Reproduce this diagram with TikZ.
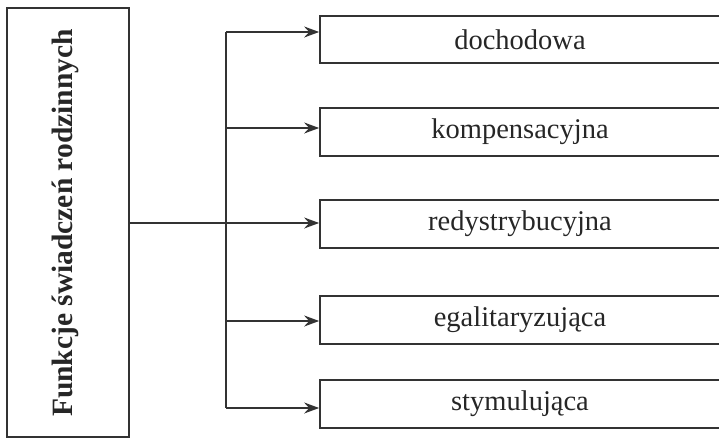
\documentclass[tikz,border=0pt]{standalone}
\usepackage{fontspec}
\setmainfont{Liberation Serif}
\usetikzlibrary{arrows.meta}
\begin{document}
\begin{tikzpicture}[x=1pt,y=-1pt,
  line/.style={draw=black!80, line width=1.7pt},
  fbox/.style={line, rectangle, minimum width=400pt, minimum height=48pt,
    inner sep=0pt, text=black!85, font=\fontsize{28.5}{32}\selectfont},
  arr/.style={line, -{Stealth[length=15pt,width=11pt,inset=5pt]}}]
\useasboundingbox (0,0) rectangle (719,439);
% main (title) box
\node[line, rectangle, minimum width=122pt, minimum height=429pt, inner sep=0pt]
  (main) at (68,222.5) {};
\node[rotate=90, text=black!85, font=\bfseries\fontsize{29.5}{32}\selectfont]
  (title) at (65,223) {Funkcje świadczeń rodzinnych};
% function boxes
\node[fbox, minimum height=47pt] (b1) at (520,39.5) {dochodowa};
\node[fbox] (b2) at (520,132) {kompensacyjna};
\node[fbox] (b3) at (520,224) {redystrybucyjna};
\node[fbox] (b4) at (520,320) {egalitaryzująca};
\node[fbox] (b5) at (520,404) {stymulująca};
% junctions on the trunk
\coordinate (j1) at (226,32);
\coordinate (j2) at (226,128);
\coordinate (j3) at (226,223);
\coordinate (j4) at (226,321);
\coordinate (j5) at (226,408);
% connectors
\draw[line] (main.east |- j3) -- (j3);
\draw[line] (j1) -- (j5);
\foreach \i in {1,...,5}{
  \draw[arr] (j\i) -- (j\i -| b\i.west);
}
\end{tikzpicture}
\end{document}
